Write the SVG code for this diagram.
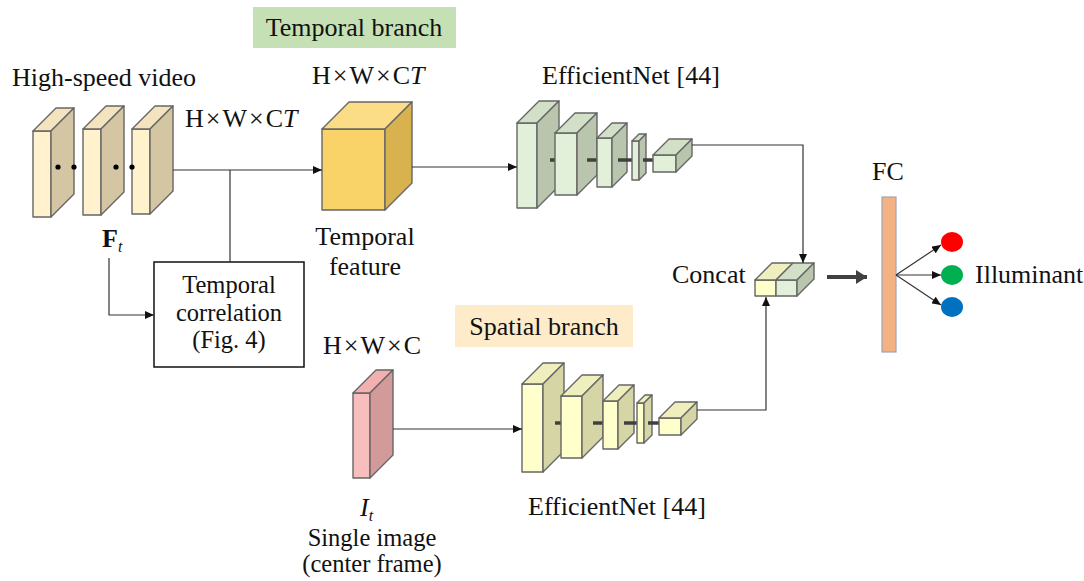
<svg xmlns="http://www.w3.org/2000/svg" width="1084" height="581" viewBox="0 0 1084 581">
<style>
text{font-family:"Liberation Serif","Times New Roman",serif;font-size:26px;fill:#111}
.mid{text-anchor:middle}
.sm{font-size:24.5px}
.b{stroke:#666;stroke-width:1.4;stroke-linejoin:round}
.gf{fill:#E2EFD9}.gt{fill:#D3E0C8}.gs{fill:#B9C5AD}
.yf{fill:#FFFFCC}.yt{fill:#EFEFBE}.ys{fill:#D5D5A5}
.ff{fill:#FFF2CC}.ft{fill:#F3E4BF}.fs{fill:#D4C5A3}
.ln{fill:none;stroke:#333;stroke-width:1.2}
.dash{stroke:#404040;stroke-width:3.5}
</style>
<defs>
<marker id="ah" markerUnits="userSpaceOnUse" markerWidth="10" markerHeight="8" refX="9" refY="4" orient="auto"><path d="M0,0 L9,4 L0,8 z" fill="#111"/></marker>
<marker id="ahb" markerUnits="userSpaceOnUse" markerWidth="12" markerHeight="14" refX="11" refY="7" orient="auto"><path d="M0,0 L11,7 L0,14 z" fill="#404040"/></marker>
</defs>

<g id="label-temporal-branch">
<rect x="253" y="7" width="203" height="41" fill="#C5E0B4"/>
<text x="354" y="36" class="mid">Temporal branch</text>
</g>

<g id="high-speed-video">
<text x="12" y="86">High-speed video</text>
<g class="b">
<rect x="33" y="131" width="18" height="86" class="ff"/>
<polygon points="33,131 51,131 74,108 56,108" class="ft"/>
<polygon points="51,131 74,108 74,194 51,217" class="fs"/>
<rect x="83" y="129" width="18" height="86" class="ff"/>
<polygon points="83,129 101,129 124,106 106,106" class="ft"/>
<polygon points="101,129 124,106 124,192 101,215" class="fs"/>
<rect x="132" y="129" width="18" height="85" class="ff"/>
<polygon points="132,129 150,129 173,106 155,106" class="ft"/>
<polygon points="150,129 173,106 173,191 150,214" class="fs"/>
</g>
<circle cx="58" cy="167" r="2.6" fill="#000"/>
<circle cx="74" cy="167" r="2.6" fill="#000"/>
<circle cx="116" cy="167" r="2.6" fill="#000"/>
<circle cx="132" cy="167" r="2.6" fill="#000"/>
<text x="185" y="127">H<tspan dx="2">×</tspan><tspan dx="2">W</tspan><tspan dx="2">×</tspan><tspan dx="2">C</tspan><tspan font-style="italic">T</tspan></text>
<text x="102" y="247" font-weight="bold">F<tspan font-weight="normal" font-style="italic" font-size="16" dy="5">t</tspan></text>
</g>

<g id="temporal-correlation">
<rect x="154" y="262" width="150" height="105" fill="#fff" stroke="#111" stroke-width="1.5"/>
<text x="229" y="293" class="mid sm">Temporal</text>
<text x="229" y="321" class="mid sm">correlation</text>
<text x="229" y="348" class="mid sm">(Fig. 4)</text>
</g>

<g id="temporal-feature">
<text x="312" y="84">H<tspan dx="2">×</tspan><tspan dx="2">W</tspan><tspan dx="2">×</tspan><tspan dx="2">C</tspan><tspan font-style="italic">T</tspan></text>
<g class="b">
<rect x="322" y="129" width="63" height="81" fill="#F9D368"/>
<polygon points="322,129 385,129 412,102 349,102" fill="#FBDD88"/>
<polygon points="385,129 412,102 412,183 385,210" fill="#D8B24E"/>
</g>
<text x="365" y="245" class="mid">Temporal</text>
<text x="365" y="275" class="mid">feature</text>
</g>

<g id="efficientnet-temporal">
<text x="542" y="84">EfficientNet [44]</text>
<g class="b">
<rect x="517" y="123" width="20" height="85" class="gf"/>
<polygon points="517,123 537,123 559,101 539,101" class="gt"/>
<polygon points="537,123 559,101 559,186 537,208" class="gs"/>
</g>
<line x1="550" y1="160" x2="555" y2="160" class="dash"/>
<g class="b">
<rect x="555" y="133" width="22" height="62" class="gf"/>
<polygon points="555,133 577,133 597,113 575,113" class="gt"/>
<polygon points="577,133 597,113 597,175 577,195" class="gs"/>
</g>
<line x1="587" y1="160" x2="597" y2="160" class="dash"/>
<g class="b">
<rect x="597" y="138" width="15" height="49" class="gf"/>
<polygon points="597,138 612,138 627,123 612,123" class="gt"/>
<polygon points="612,138 627,123 627,172 612,187" class="gs"/>
</g>
<line x1="618" y1="160" x2="632" y2="160" class="dash"/>
<g class="b">
<rect x="632" y="141" width="7" height="39" class="gf"/>
<polygon points="632,141 639,141 646,134 639,134" class="gt"/>
<polygon points="639,141 646,134 646,173 639,180" class="gs"/>
</g>
<line x1="643" y1="160" x2="653" y2="160" class="dash"/>
<g class="b">
<rect x="653" y="155" width="23" height="17" class="gf"/>
<polygon points="653,155 676,155 692,139 669,139" class="gt"/>
<polygon points="676,155 692,139 692,156 676,172" class="gs"/>
</g>
</g>

<g id="label-spatial-branch">
<rect x="455" y="305" width="178" height="42" fill="#FDEBCA"/>
<text x="544" y="335" class="mid">Spatial branch</text>
</g>

<g id="single-image">
<text x="323" y="354">H<tspan dx="2">×</tspan><tspan dx="2">W</tspan><tspan dx="2">×</tspan><tspan dx="2">C</tspan></text>
<g class="b">
<rect x="353" y="393" width="17" height="85" fill="#F8BEBE"/>
<polygon points="353,393 370,393 393,370 376,370" fill="#F2B0B0"/>
<polygon points="370,393 393,370 393,455 370,478" fill="#D39A9A"/>
</g>
<text x="360" y="516" font-style="italic">I<tspan font-size="16" dy="5">t</tspan></text>
<text x="372" y="546" class="mid sm">Single image</text>
<text x="372" y="572" class="mid sm">(center frame)</text>
</g>

<g id="efficientnet-spatial">
<text x="528" y="515">EfficientNet [44]</text>
<g class="b">
<rect x="522" y="384" width="21" height="88" class="yf"/>
<polygon points="522,384 543,384 564,363 543,363" class="yt"/>
<polygon points="543,384 564,363 564,451 543,472" class="ys"/>
</g>
<line x1="555" y1="423" x2="561" y2="423" class="dash"/>
<g class="b">
<rect x="561" y="396" width="21" height="62" class="yf"/>
<polygon points="561,396 582,396 603,375 582,375" class="yt"/>
<polygon points="582,396 603,375 603,437 582,458" class="ys"/>
</g>
<line x1="593" y1="423" x2="603" y2="423" class="dash"/>
<g class="b">
<rect x="603" y="401" width="15" height="48" class="yf"/>
<polygon points="603,401 618,401 634,385 619,385" class="yt"/>
<polygon points="618,401 634,385 634,433 618,449" class="ys"/>
</g>
<line x1="624" y1="423" x2="637" y2="423" class="dash"/>
<g class="b">
<rect x="637" y="403" width="7" height="40" class="yf"/>
<polygon points="637,403 644,403 652,395 645,395" class="yt"/>
<polygon points="644,403 652,395 652,435 644,443" class="ys"/>
</g>
<line x1="648" y1="423" x2="659" y2="423" class="dash"/>
<g class="b">
<rect x="659" y="418" width="22" height="17" class="yf"/>
<polygon points="659,418 681,418 697,402 675,402" class="yt"/>
<polygon points="681,418 697,402 697,419 681,435" class="ys"/>
</g>
</g>

<g id="concat">
<text x="672" y="283">Concat</text>
<g class="b">
<rect x="755" y="280" width="21" height="16" class="yf"/>
<rect x="776" y="280" width="21" height="16" class="gf"/>
<polygon points="755,280 776,280 793,263 772,263" class="yt"/>
<polygon points="776,280 797,280 814,263 793,263" class="gt"/>
<polygon points="797,280 814,263 814,279 797,296" class="gs"/>
</g>
</g>

<g id="fc">
<text x="888" y="180" class="mid">FC</text>
<rect x="882" y="197" width="14" height="155" fill="#F4B183" stroke="#9AA6B4" stroke-width="1.2"/>
</g>

<g id="illuminant">
<ellipse cx="952" cy="242" rx="11" ry="10" fill="#FF0000"/>
<ellipse cx="952" cy="275" rx="11" ry="10" fill="#00B050"/>
<ellipse cx="952" cy="307" rx="11" ry="10" fill="#0070C0"/>
<text x="975" y="283">Illuminant</text>
</g>

<g id="connectors">
<path d="M173,170 H322" class="ln" marker-end="url(#ah)"/>
<path d="M230,170 V262" class="ln"/>
<path d="M109,258 V315 H154" class="ln" marker-end="url(#ah)"/>
<path d="M412,167 H517" class="ln" marker-end="url(#ah)"/>
<path d="M692,145 H803 V263" class="ln" marker-end="url(#ah)"/>
<path d="M697,410 H766 V297" class="ln" marker-end="url(#ah)"/>
<path d="M393,429 H522" class="ln" marker-end="url(#ah)"/>
<path d="M827,277 H867" fill="none" stroke="#404040" stroke-width="4" marker-end="url(#ahb)"/>
<path d="M896,275 L941,245" class="ln" marker-end="url(#ah)"/>
<path d="M896,275 L941,275" class="ln" marker-end="url(#ah)"/>
<path d="M896,275 L941,305" class="ln" marker-end="url(#ah)"/>
</g>
</svg>
